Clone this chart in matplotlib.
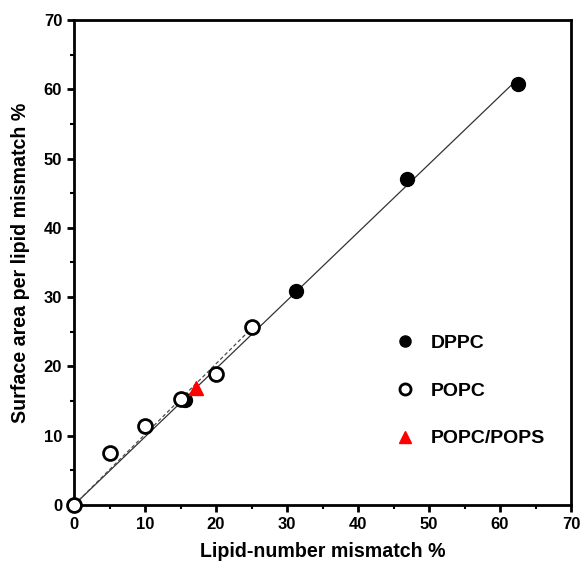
import matplotlib.pyplot as plt
import numpy as np

plt.rcParams['font.family'] = ['Liberation Sans', 'DejaVu Sans']
plt.rcParams['font.weight'] = 'bold'

# data
dppc_x = [15.6, 31.2, 46.9, 62.5]
dppc_y = [15.2, 30.9, 47.1, 60.7]
popc_x = [0, 5, 10, 15, 20, 25]
popc_y = [0, 7.5, 11.4, 15.3, 18.9, 25.7]
mix_x = [17.2]
mix_y = [16.9]

fs = 14.1
fig = plt.figure(figsize=(5.81, 5.63), dpi=100)
ax = fig.add_axes([0.1274, 0.103, 0.8554, 0.8615])

# fits through the origin
def origin_slope(x, y):
    x = np.asarray(x, float)
    y = np.asarray(y, float)
    return (x * y).sum() / (x * x).sum()

xx = np.array([0, max(dppc_x)])
ax.plot(xx, origin_slope(dppc_x, dppc_y) * xx, color='0.2', lw=0.9, zorder=1)
xx2 = np.array([0, max(popc_x)])
ax.plot(xx2, origin_slope(popc_x, popc_y) * xx2, color='0.3', lw=0.9,
        ls=(0, (3, 2)), zorder=1)

ax.plot(dppc_x, dppc_y, 'o', ms=10, color='k', label='DPPC', zorder=3, clip_on=False)
ax.plot(popc_x, popc_y, 'o', ms=10, mfc='white', mec='k', mew=2, label='POPC',
        zorder=3, clip_on=False)
ax.plot(mix_x, mix_y, '^', ms=10, color='red', label='POPC/POPS', zorder=4)

ax.set_xlim(0, 70)
ax.set_ylim(0, 70)
ax.set_xticks(np.arange(0, 71, 10))
ax.set_yticks(np.arange(0, 71, 10))
ax.set_xticks(np.arange(5, 70, 10), minor=True)
ax.set_yticks(np.arange(5, 70, 10), minor=True)
ax.tick_params(axis='both', which='major', direction='out', length=5, width=2, labelsize=12)
ax.tick_params(axis='both', which='minor', direction='out', length=3, width=1.5)
for s in ax.spines.values():
    s.set_linewidth(2)

ax.set_xlabel('Lipid-number mismatch %', fontsize=fs, fontweight='bold', labelpad=7)
ax.set_ylabel('Surface area per lipid mismatch %', fontsize=fs, fontweight='bold', labelpad=10)

leg = ax.legend(loc='upper left', bbox_to_anchor=(0.612, 0.388), frameon=False,
                fontsize=14, handlelength=1.0, handletextpad=0.8, labelspacing=1.55,
                markerscale=0.8)

plt.savefig('out.png', dpi=100)
